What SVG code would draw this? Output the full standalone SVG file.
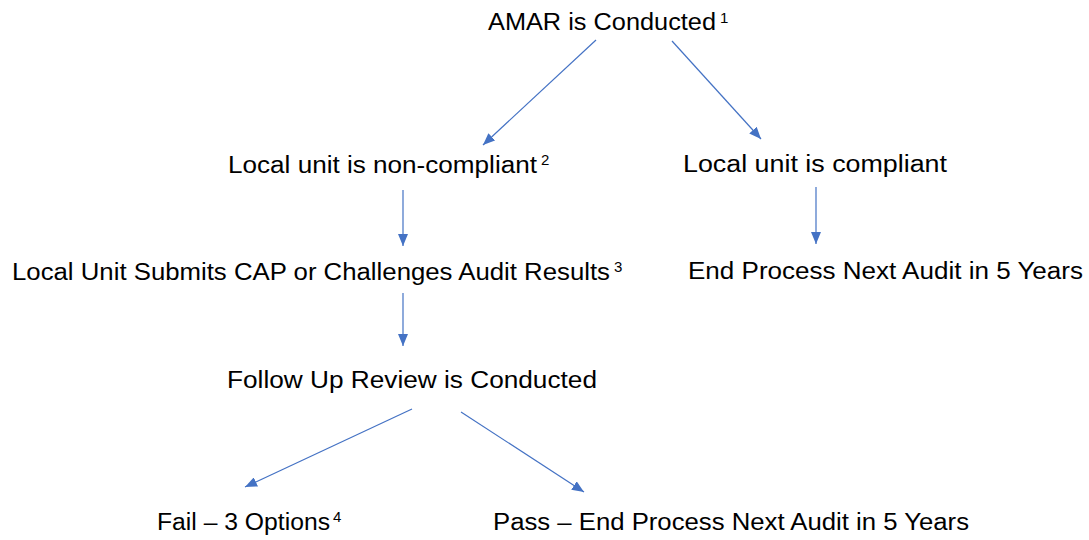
<svg xmlns="http://www.w3.org/2000/svg" width="1089" height="540" viewBox="0 0 1089 540">
<style>
.t{font-family:"Liberation Sans",Arial,sans-serif;font-size:23.5px;fill:#000}
.s{font-family:"Liberation Sans",Arial,sans-serif;font-size:15px;fill:#000}
.c line{stroke:#4472C4;stroke-width:1.2;fill:none;marker-end:url(#ah)}
</style>
<defs>
<marker id="ah" markerUnits="userSpaceOnUse" viewBox="0 0 12 10" markerWidth="12" markerHeight="10" refX="12" refY="5" orient="auto">
<path d="M0,0 L12,5 L0,10 z" fill="#4472C4"/>
</marker>
</defs>
<rect width="1089" height="540" fill="#fff"/>
<g id="connectors" class="c">
<line x1="596" y1="40" x2="483" y2="145"/>
<line x1="672" y1="41" x2="761" y2="139"/>
<line x1="403" y1="190" x2="403" y2="246"/>
<line x1="403" y1="293" x2="403" y2="346"/>
<line x1="816" y1="187" x2="816" y2="244"/>
<line x1="412" y1="409" x2="245" y2="487"/>
<line x1="461" y1="412" x2="584" y2="492"/>
</g>
<g id="n1"><text class="t" x="488" y="30" textLength="228" lengthAdjust="spacingAndGlyphs">AMAR is Conducted</text><text class="s" x="720" y="23">1</text></g>
<g id="n2"><text class="t" x="228" y="173" textLength="309" lengthAdjust="spacingAndGlyphs">Local unit is non-compliant</text><text class="s" x="541" y="165">2</text></g>
<g id="n3"><text class="t" x="683" y="172" textLength="264" lengthAdjust="spacingAndGlyphs">Local unit is compliant</text></g>
<g id="n4"><text class="t" x="12" y="280" textLength="598" lengthAdjust="spacingAndGlyphs">Local Unit Submits CAP or Challenges Audit Results</text><text class="s" x="614" y="272">3</text></g>
<g id="n5"><text class="t" x="688" y="279" textLength="395" lengthAdjust="spacingAndGlyphs">End Process Next Audit in 5 Years</text></g>
<g id="n6"><text class="t" x="227" y="388" textLength="370" lengthAdjust="spacingAndGlyphs">Follow Up Review is Conducted</text></g>
<g id="n7"><text class="t" x="157" y="530" textLength="173" lengthAdjust="spacingAndGlyphs">Fail – 3 Options</text><text class="s" x="333" y="522">4</text></g>
<g id="n8"><text class="t" x="493" y="530" textLength="476" lengthAdjust="spacingAndGlyphs">Pass – End Process Next Audit in 5 Years</text></g>
</svg>
